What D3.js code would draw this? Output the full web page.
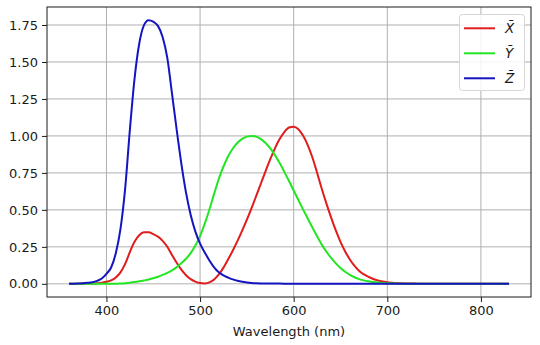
<!DOCTYPE html>
<html><head><meta charset="utf-8">
<script src="https://cdn.jsdelivr.net/npm/d3@7"></script>
<style>
html,body{margin:0;padding:0;background:#fff;}
svg{display:block;font-family:"DejaVu Sans",sans-serif;}
</style></head>
<body><svg id="c" width="540" height="345"></svg>
<script>
// CIE 1931 2° colour matching functions, 5 nm steps 360–830
const wavelengths = d3.range(360, 831, 5);
const xBar = [0.000130,0.000232,0.000415,0.000742,0.001368,0.002236,0.004243,0.007650,0.014310,0.023190,
0.043510,0.077630,0.134380,0.214770,0.283900,0.328500,0.348280,0.348060,0.336200,0.318700,
0.290800,0.251100,0.195360,0.142100,0.095640,0.057950,0.032010,0.014700,0.004900,0.002400,
0.009300,0.029100,0.063270,0.109600,0.165500,0.225750,0.290400,0.359700,0.433450,0.512050,
0.594500,0.678400,0.762100,0.842500,0.916300,0.978600,1.026300,1.056700,1.062200,1.045600,
1.002600,0.938400,0.854450,0.751400,0.642400,0.541900,0.447900,0.360800,0.283500,0.218700,
0.164900,0.121200,0.087400,0.063600,0.046770,0.032900,0.022700,0.015840,0.011359,0.008111,
0.005790,0.004109,0.002899,0.002049,0.001440,0.001000,0.000690,0.000476,0.000332,0.000235,
0.000166,0.000117,0.000083,0.000059,0.000042,0.000029,0.000021,0.000015,0.000010,0.000007,
0.000005,0.000004,0.000003,0.000002,0.000001];
const yBar = [0.000004,0.000007,0.000012,0.000022,0.000039,0.000064,0.000120,0.000217,0.000396,0.000640,
0.001210,0.002180,0.004000,0.007300,0.011600,0.016840,0.023000,0.029800,0.038000,0.048000,
0.060000,0.073900,0.090980,0.112600,0.139020,0.169300,0.208020,0.258600,0.323000,0.407300,
0.503000,0.608200,0.710000,0.793200,0.862000,0.914850,0.954000,0.980300,0.994950,1.000000,
0.995000,0.978600,0.952000,0.915400,0.870000,0.816300,0.757000,0.694900,0.631000,0.566800,
0.503000,0.441200,0.381000,0.321000,0.265000,0.217000,0.175000,0.138200,0.107000,0.081600,
0.061000,0.044580,0.032000,0.023200,0.017000,0.011920,0.008210,0.005723,0.004102,0.002929,
0.002091,0.001484,0.001047,0.000740,0.000520,0.000361,0.000249,0.000172,0.000120,0.000085,
0.000060,0.000042,0.000030,0.000021,0.000015,0.000011,0.000007,0.000005,0.000004,0.000003,
0.000002,0.000001,0.000001,0.000001,0.000000];
const zBar = [0.000606,0.001086,0.001946,0.003486,0.006450,0.010550,0.020050,0.036210,0.067850,0.110200,
0.207400,0.371300,0.645600,1.039050,1.385600,1.622960,1.747060,1.782600,1.772110,1.744100,
1.669200,1.528100,1.287640,1.041900,0.812950,0.616200,0.465180,0.353300,0.272000,0.212300,
0.158200,0.111700,0.078250,0.057250,0.042160,0.029840,0.020300,0.013400,0.008750,0.005750,
0.003900,0.002750,0.002100,0.001800,0.001650,0.001400,0.001100,0.001000,0.000800,0.000600,
0.000340,0.000240,0.000190,0.000100,0.000050,0.000030,0.000020,0.000010,0,0,
0,0,0,0,0,0,0,0,0,0,
0,0,0,0,0,0,0,0,0,0,
0,0,0,0,0,0,0,0,0,0,
0,0,0,0,0];
const seriesNames = ["X\u0304","Y\u0304","Z\u0304"];
const seriesColors = ["#e01c1c","#22e622","#1414c0"];
const xTicks = [400,500,600,700,800];
const yTicks = [0,0.25,0.5,0.75,1.0,1.25,1.5,1.75];
const xLabel = "Wavelength (nm)";

const svg = d3.select("#c");
const L = 47, R = 531, T = 7, B = 297;
const xs = d3.scaleLinear().domain([336.5, 853.5]).range([L, R]);
const ys = d3.scaleLinear().domain([-0.0891, 1.8717]).range([B, T]);

// grid
const g = svg.append("g");
g.selectAll(".vg").data(xTicks).join("line")
  .attr("x1", d => xs(d)).attr("x2", d => xs(d)).attr("y1", T).attr("y2", B)
  .attr("stroke", "#b0b0b0").attr("stroke-width", 1);
g.selectAll(".hg").data(yTicks).join("line")
  .attr("y1", d => ys(d)).attr("y2", d => ys(d)).attr("x1", L).attr("x2", R)
  .attr("stroke", "#b0b0b0").attr("stroke-width", 1);

// curves
const all = [xBar, yBar, zBar];
const line = d3.line().x((d, i) => xs(wavelengths[i])).y(d => ys(d)).curve(d3.curveMonotoneX);
all.forEach((s, k) => {
  svg.append("path").attr("d", line(s)).attr("fill", "none")
    .attr("stroke", seriesColors[k]).attr("stroke-width", 2).attr("stroke-linejoin", "round");
});

// axes
const xAxis = d3.axisBottom(xs).tickValues(xTicks).tickSize(5).tickPadding(4).tickFormat(d3.format("d"));
const yAxis = d3.axisLeft(ys).tickValues(yTicks).tickSize(5).tickPadding(4).tickFormat(d3.format(".2f"));
const ax = svg.append("g").attr("transform", `translate(0,${B})`).call(xAxis);
const ay = svg.append("g").attr("transform", `translate(${L},0)`).call(yAxis);
[ax, ay].forEach(a => {
  a.select(".domain").remove();
  a.selectAll("text").attr("font-family", "DejaVu Sans").attr("font-size", 13).attr("fill", "#1a1a1a");
  a.selectAll("line").attr("stroke", "#1a1a1a").attr("stroke-width", 1);
});
svg.append("rect").attr("x", L).attr("y", T).attr("width", R - L).attr("height", B - T)
  .attr("fill", "none").attr("stroke", "#1a1a1a").attr("stroke-width", 1);

svg.append("text").attr("x", (L + R) / 2).attr("y", 336).attr("text-anchor", "middle")
  .attr("font-size", 13).attr("fill", "#1a1a1a").text(xLabel);

// legend
const lg = svg.append("g");
lg.append("rect").attr("x", 459.5).attr("y", 14.5).attr("width", 65).attr("height", 76).attr("rx", 3)
  .attr("fill", "#fff").attr("fill-opacity", 0.85).attr("stroke", "#d6d6d6");
seriesNames.forEach((n, k) => {
  const yy = 28.3 + k * 25;
  lg.append("line").attr("x1", 464).attr("x2", 495).attr("y1", yy).attr("y2", yy)
    .attr("stroke", seriesColors[k]).attr("stroke-width", 2);
  lg.append("text").attr("x", 505).attr("y", yy + 5).attr("font-size", 13.5).attr("font-style", "italic")
    .attr("fill", "#1a1a1a").text(n);
});
</script></body></html>
